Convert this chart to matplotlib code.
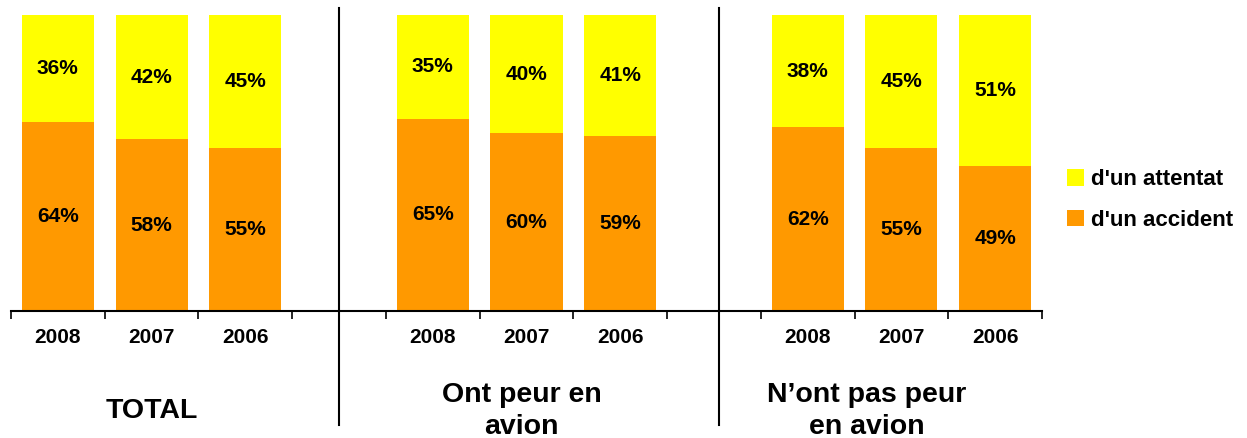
import matplotlib.pyplot as plt
import numpy as np

plt.rcParams['font.family'] = ['Liberation Sans', 'DejaVu Sans']

years = ['2008', '2007', '2006']
groups = ['TOTAL', 'Ont peur en\navion', 'N\u2019ont pas peur\nen avion']
accident = [64, 58, 55, 65, 60, 59, 62, 55, 49]
attentat = [36, 42, 45, 35, 40, 41, 38, 45, 51]

yellow = '#FFFF00'
orange = '#FF9900'

# slot positions: 3 bars per group, one empty slot between groups
pos = [0, 1, 2, 4, 5, 6, 8, 9, 10]

fig = plt.figure(figsize=(12.47, 4.38), dpi=100)
ax = fig.add_axes([11 / 1247, (438 - 311) / 438, 1031 / 1247, 296 / 438])

acc = np.array(accident)
att = np.array(attentat)
b1 = ax.bar(pos, acc, width=0.77, color=orange, label="d'un accident")
b2 = ax.bar(pos, att, bottom=acc, width=0.77, color=yellow, label="d'un attentat")

for x, a, t in zip(pos, acc, att):
    ax.text(x, a / 2, '%d%%' % a, ha='center', va='center', fontsize=15, fontweight='bold')
    ax.text(x, a + t / 2, '%d%%' % t, ha='center', va='center', fontsize=15, fontweight='bold')

ax.set_xlim(-0.5, 10.5)
ax.set_ylim(0, 100)
for s in ['top', 'right', 'left']:
    ax.spines[s].set_visible(False)
ax.spines['bottom'].set_linewidth(1.5)
ax.set_yticks([])
ax.set_xticks(np.arange(-0.5, 11, 1))
ax.set_xticklabels([])
ax.tick_params(axis='x', length=6, width=1.2, direction='out')

for x, yr in zip(pos, years * 3):
    ax.text(x, -0.088, yr, transform=ax.get_xaxis_transform(), ha='center', va='center',
            fontsize=15, fontweight='bold')

for x, g in zip([1, 4.95, 8.63], groups):
    ax.text(x, -0.338, g, transform=ax.get_xaxis_transform(), ha='center', va='center',
            fontsize=20.5, fontweight='bold', linespacing=1.3)

for x in [3, 7.05]:
    ax.axvline(x, ymin=-0.385, ymax=1.024, color='black', lw=1.5, clip_on=False)

fig.legend(handles=[b2, b1], loc='center left', bbox_to_anchor=(1067 / 1247, 1 - 200 / 438),
           frameon=False, prop={'size': 16, 'weight': 'bold'}, borderpad=0, borderaxespad=0,
           handlelength=0.77, handleheight=0.77, handletextpad=0.32, labelspacing=0.88)

fig.savefig('out.png', dpi=100)
